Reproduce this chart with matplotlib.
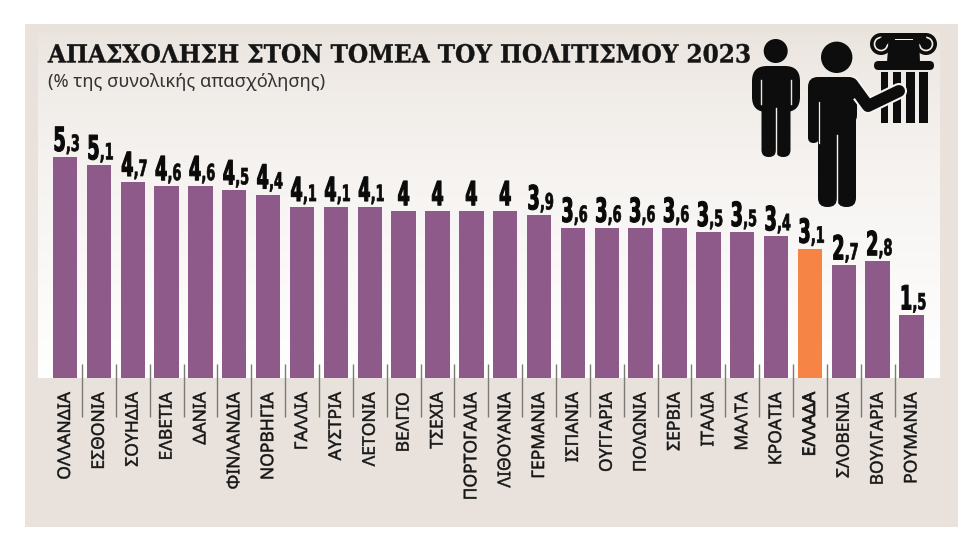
import numpy as np
import matplotlib
matplotlib.use("Agg")
import matplotlib.pyplot as plt
from matplotlib import patheffects
from matplotlib.patches import Circle, FancyBboxPatch, Polygon, Rectangle
from matplotlib.transforms import Affine2D

countries = ["ΟΛΛΑΝΔΙΑ", "ΕΣΘΟΝΙΑ", "ΣΟΥΗΔΙΑ", "ΕΛΒΕΤΙΑ", "ΔΑΝΙΑ", "ΦΙΝΛΑΝΔΙΑ", "ΝΟΡΒΗΓΙΑ",
             "ΓΑΛΛΙΑ", "ΑΥΣΤΡΙΑ", "ΛΕΤΟΝΙΑ", "ΒΕΛΓΙΟ", "ΤΣΕΧΙΑ", "ΠΟΡΤΟΓΑΛΙΑ", "ΛΙΘΟΥΑΝΙΑ",
             "ΓΕΡΜΑΝΙΑ", "ΙΣΠΑΝΙΑ", "ΟΥΓΓΑΡΙΑ", "ΠΟΛΩΝΙΑ", "ΣΕΡΒΙΑ", "ΙΤΑΛΙΑ", "ΜΑΛΤΑ",
             "ΚΡΟΑΤΙΑ", "ΕΛΛΑΔΑ", "ΣΛΟΒΕΝΙΑ", "ΒΟΥΛΓΑΡΙΑ", "ΡΟΥΜΑΝΙΑ"]
values = [5.3, 5.1, 4.7, 4.6, 4.6, 4.5, 4.4, 4.1, 4.1, 4.1, 4, 4, 4, 4, 3.9,
          3.6, 3.6, 3.6, 3.6, 3.5, 3.5, 3.4, 3.1, 2.7, 2.8, 1.5]
highlight = "ΕΛΛΑΔΑ"

title = "ΑΠΑΣΧΟΛΗΣΗ ΣΤΟΝ ΤΟΜΕΑ ΤΟΥ ΠΟΛΙΤΙΣΜΟΥ 2023"
subtitle = "(% της συνολικής απασχόλησης)"

PURPLE = "#8E5A89"
ORANGE = "#F58445"
SAND = "#E9E2DC"
W, H = 980, 551
PT = 0.72  # points per pixel at dpi 100


class Reshape(patheffects.AbstractPathEffect):
    # scale the glyphs around the text origin, with an optional outline to fatten them
    def __init__(self, sx=1.0, sy=1.0, stroke=0.0):
        super().__init__()
        self.sx = sx
        self.sy = sy
        self.stroke = stroke

    def draw_path(self, renderer, gc, tpath, affine, rgbFace=None):
        gc0 = renderer.new_gc()
        gc0.copy_properties(gc)
        gc0.set_linewidth(self.stroke)
        gc0.set_foreground(rgbFace)
        renderer.draw_path(gc0, tpath, Affine2D().scale(self.sx, self.sy) + affine, rgbFace)
        gc0.restore()


fig = plt.figure(figsize=(W / 100, H / 100), dpi=100, facecolor="white")

# background layer in pixel units
bg = fig.add_axes([0, 0, 1, 1], zorder=0)
bg.add_patch(Rectangle((25, 24), 933, 503, color=SAND, lw=0))
fade = np.linspace(0, 1, 256).reshape(-1, 1, 1) ** 0.62
top = np.array(matplotlib.colors.to_rgb(SAND)).reshape(1, 1, 3)
bottom = np.array([1.0, 1.0, 1.0]).reshape(1, 1, 3)
bg.imshow(top * (1 - fade) + bottom * fade, extent=(38, 939, 378, 28), aspect="auto", zorder=1)
bg.set_xlim(0, W)
bg.set_ylim(H, 0)
bg.axis("off")

bg.text(48, 62.5, title, family="DejaVu Serif", weight="bold", fontsize=25 * PT, color="#151515",
        ha="left", va="baseline", zorder=3, path_effects=[Reshape(sx=0.93, stroke=0.3)])
bg.text(48, 87, subtitle, family="Noto Sans", fontsize=18.3 * PT, color="#333333",
        ha="left", va="baseline", zorder=3)

# bars
x_left = (65 - 16.93) / W
x_right = (911.5 + 16.93) / W
ax = fig.add_axes([x_left, 1 - 378 / H, x_right - x_left, 278 / H], zorder=2)
ax.patch.set_alpha(0)
ax.set_xlim(-0.5, len(values) - 0.5)
ax.set_ylim(0, 278 / 41.7)
for side in ax.spines.values():
    side.set_visible(False)
ax.tick_params(left=False, labelleft=False, bottom=False)

xs = np.arange(len(values))
colors = [ORANGE if c == highlight else PURPLE for c in countries]
ax.bar(xs, values, width=0.72, color=colors, linewidth=0, zorder=2)

ax.set_xticks(xs)
ax.set_xticklabels(countries, rotation=90, family="Noto Sans", fontsize=17.5 * PT, color="#161616",
                   va="top", ha="center")
ax.tick_params(axis="x", pad=14 * PT, length=0)
for lab in ax.get_xticklabels():
    if lab.get_text() == highlight:
        lab.set_fontweight("bold")
        lab.set_path_effects([Reshape(stroke=0.6)])
    else:
        lab.set_path_effects([Reshape(stroke=0.35)])

# separators between the columns
ax.vlines(xs[:-1] + 0.5, -39 / 41.7, 14 / 41.7, color="#7d7a76", lw=1.0, clip_on=False, zorder=1)


def value_text(i, v, s, dx, size, sy, stroke):
    ax.annotate(s, (i, v), xytext=(dx * PT, 6 * PT), textcoords="offset points", ha="left",
                va="baseline", family="DejaVu Sans", weight="bold", fontsize=size * PT,
                color="#0a0a0a", annotation_clip=False, zorder=4,
                path_effects=[Reshape(sy=sy, stroke=stroke)])


# value labels: large integer part, small decimal part
for i, v in enumerate(values):
    text = f"{v:g}".replace(".", ",")
    if len(text) > 1:
        value_text(i, v, text[0], -11.5, 17.5, 1.9, 0.8)
        value_text(i, v, text[1:], 1, 12.8, 1.75, 0.5)
    else:
        value_text(i, v, text, -6, 17.5, 1.9, 0.8)

# people and column icons, pixel units
ic = fig.add_axes([0, 0, 1, 1], zorder=3)
ic.set_xlim(0, W)
ic.set_ylim(H, 0)
ic.axis("off")
INK = "#0d0d0d"


def rbox(x0, y0, x1, y1, r, color=INK, z=3):
    ic.add_patch(FancyBboxPatch((x0 + r, y0 + r), x1 - x0 - 2 * r, y1 - y0 - 2 * r,
                                boxstyle=f"round,pad={r}", color=color, lw=0, zorder=z))


# column
for x0, x1 in [(880.5, 888), (893, 901), (905.5, 915), (919, 927.5)]:
    ic.add_patch(Rectangle((x0, 72), x1 - x0, 51, color=INK, lw=0, zorder=2))
rbox(874, 61, 934, 70, 4.5)
for cx in (881, 926):
    ic.add_patch(Circle((cx, 44), 11, color=INK, lw=0, zorder=2))
    ic.add_patch(Circle((cx, 44), 6.5, fc="none", ec="#f4efeb", lw=1.2, zorder=3))
    ic.add_patch(Circle((cx + (3 if cx < 900 else -3), 41), 4.6, color=INK, lw=0, zorder=3))
ic.add_patch(Rectangle((882, 33), 44, 5, color=INK, lw=0, zorder=3))
ic.add_patch(Polygon([(889, 37), (919, 37), (920, 62), (887, 62)], color=INK, lw=0, zorder=3))
ic.add_patch(Rectangle((895, 38.5), 18, 1.2, color="#f4efeb", lw=0, zorder=4))

# small figure
ic.add_patch(Circle((775.7, 51), 12, color=INK, lw=0))
rbox(752, 66, 800, 112, 15)
rbox(761.5, 90, 776, 157, 7)
rbox(776, 90, 790.5, 157, 7)
ic.plot([761, 761], [80, 104], color="#e8e4e0", lw=1, zorder=4)
ic.plot([791, 791], [80, 104], color="#e8e4e0", lw=1, zorder=4)
ic.plot([775.8, 775.8], [108, 158], color="#f3efec", lw=1, zorder=4)

# large figure
ic.add_patch(Circle((836.7, 57.3), 15.7, color=INK, lw=0))
rbox(808, 77, 857, 125, 10)
rbox(808, 90, 819, 143, 5.5)
rbox(818, 100, 837, 207, 9)
rbox(837, 100, 856, 207, 9)
ic.plot([819, 819], [102, 143], color="#f3efec", lw=0.9, zorder=4)
ic.plot([836.8, 836.8], [135, 208], color="#f7f4f1", lw=1, zorder=4)
arm_x, arm_y = [852, 868, 899], [84, 106, 91]
ic.plot(arm_x, arm_y, color="#f7f4f1", lw=12 * PT + 3, solid_capstyle="round", solid_joinstyle="round", zorder=3)
ic.plot(arm_x, arm_y, color=INK, lw=12 * PT, solid_capstyle="round", solid_joinstyle="round", zorder=4)
rbox(830, 77, 857, 100, 8, z=5)

fig.savefig("out.png", dpi=100)
